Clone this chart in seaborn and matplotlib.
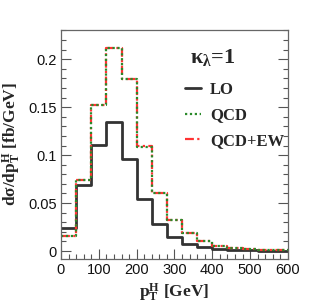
import numpy as np
import matplotlib
matplotlib.use("Agg")
import matplotlib.pyplot as plt
import seaborn as sns

# ---- data ----
bin_edges = [0, 40, 80, 120, 160, 200, 240, 280, 320, 360, 400, 440, 480, 520, 560, 600]
lo_vals = [0.0236, 0.0688, 0.1105, 0.1347, 0.0963, 0.0538, 0.0281, 0.0142, 0.0073,
           0.0038, 0.0020, 0.0012, 0.0007, 0.0004, 0.0003]
qcd_vals = [0.0156, 0.0740, 0.1518, 0.2115, 0.1790, 0.1090, 0.0607, 0.0323, 0.0184,
            0.0108, 0.0056, 0.0035, 0.0020, 0.0012, 0.0009]
qcdew_vals = [0.0156, 0.0742, 0.1520, 0.2118, 0.1792, 0.1092, 0.0608, 0.0324, 0.0185,
              0.0108, 0.0057, 0.0035, 0.0021, 0.0013, 0.0009]
series_labels = ["LO", "QCD", "QCD+EW"]
x_ticks = [0, 100, 200, 300, 400, 500, 600]
y_ticks = [0, 0.05, 0.1, 0.15, 0.2]
y_tick_labels = ["0", "0.05", "0.1", "0.15", "0.2"]

sns.set_theme(style="ticks")
plt.rcParams["mathtext.fontset"] = "custom"
plt.rcParams["mathtext.rm"] = "Liberation Serif:bold"
plt.rcParams["mathtext.bf"] = "Liberation Serif:bold"
plt.rcParams["mathtext.it"] = "Liberation Serif:bold"
plt.rcParams["mathtext.default"] = "bf"

fig = plt.figure(figsize=(3.21, 3.06), dpi=100)
ax = fig.add_axes([0.19, 0.1536, 0.707, 0.7484])

def step(vals, **kw):
    y = list(vals) + [vals[-1]]
    sns.lineplot(x=bin_edges, y=y, drawstyle="steps-post", estimator=None,
                 sort=False, ax=ax, **kw)

step(lo_vals, color="#333333", linewidth=2.0, linestyle="-", label=series_labels[0])
step(qcdew_vals, color="#ff3333", linewidth=1.6, linestyle=(0, (4, 1.5, 1, 1.5)), label=series_labels[2])
step(qcd_vals, color="#2a8a2a", linewidth=1.6, linestyle=(0, (1, 1.2)), label=series_labels[1])

ax.set_xlim(0, 600)
ax.set_ylim(-0.0083, 0.2305)
ax.set_xticks(x_ticks)
ax.set_xticks(np.arange(0, 601, 20), minor=True)
ax.set_yticks(y_ticks)
ax.set_yticklabels(y_tick_labels)
ax.set_yticks(np.arange(0, 0.231, 0.01), minor=True)
ax.tick_params(which="both", direction="in", right=True, top=False, color="#555555",
               labelsize=10.5, labelcolor="#111111", pad=3)
ax.tick_params(which="major", length=7, width=0.8)
ax.tick_params(which="minor", length=3.5, width=0.8)
for lbl in ax.get_xticklabels() + ax.get_yticklabels():
    lbl.set_family("Liberation Sans")
for s in ax.spines.values():
    s.set_color("#666666")
    s.set_linewidth(0.9)

ax.set_xlabel(r"$p_T^H$ [GeV]", family="Liberation Serif", fontweight="bold", fontsize=12.5, labelpad=3)
ax.set_ylabel(r"dσ/d$p_T^H$ [fb/GeV]", family="Liberation Serif", fontweight="bold", fontsize=12.5, labelpad=4)

handles, labels = ax.get_legend_handles_labels()
order = [labels.index(l) for l in series_labels]
leg = ax.legend([handles[i] for i in order], [labels[i] for i in order],
                loc="upper left", bbox_to_anchor=(0.546, 0.772),
                borderpad=0, borderaxespad=0,
                frameon=False, handlelength=0.96, handletextpad=0.55, labelspacing=0.56,
                prop={"family": "Liberation Serif", "weight": "bold", "size": 12})
ax.text(0.568, 0.882, "κ$_λ$=1", transform=ax.transAxes, ha="left", va="center",
        family="Liberation Serif", fontweight="bold", fontsize=16)

fig.savefig("out.png", dpi=100)
